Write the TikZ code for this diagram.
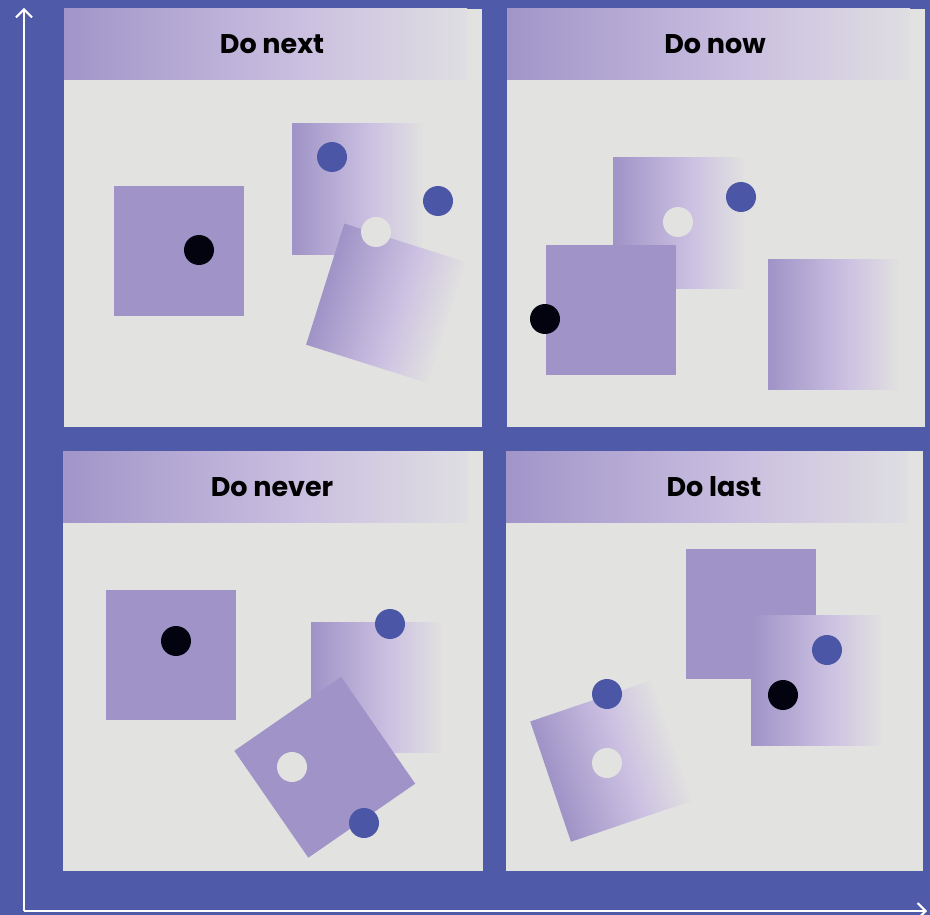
\documentclass[tikz,border=0pt]{standalone}
\usepackage{fontspec}
\newfontfamily\poppins{Poppins}
\usetikzlibrary{arrows.meta}
\definecolor{bgblue}{HTML}{4F5AA8}
\definecolor{panelgray}{HTML}{E2E2E0}
\definecolor{lav}{HTML}{9F93C7}
\definecolor{lavmid}{HTML}{CDC2E2}
\definecolor{lavend}{HTML}{E1E0E0}
\definecolor{hdrA}{HTML}{A195C9}
\definecolor{hdrB}{HTML}{CBC0E0}
\definecolor{hdrC}{HTML}{DFDEE2}
\definecolor{dotblue}{HTML}{4C56A6}
\definecolor{dotblack}{HTML}{03020F}
\pgfdeclarehorizontalshading{sqshade}{100bp}{color(0bp)=(lav); color(25bp)=(lav); color(56bp)=(lavmid); color(75bp)=(lavend); color(100bp)=(lavend)}
\pgfdeclarehorizontalshading{hdrshade}{100bp}{color(0bp)=(hdrA); color(25bp)=(hdrA); color(55bp)=(hdrB); color(75bp)=(hdrC); color(100bp)=(hdrC)}
\tikzset{
  panel/.style={fill=panelgray},
  header/.style={shading=hdrshade},
  solidsq/.style={fill=lav},
  gradsq/.style={shading=sqshade},
  bluedot/.style={fill=dotblue},
  blackdot/.style={fill=dotblack},
  whitedot/.style={fill=panelgray},
  headtitle/.style={font=\poppins\bfseries\fontsize{27}{31}\selectfont, text=black, anchor=base, inner sep=0pt},
  axisarrow/.style={draw=white, line width=2pt, -{Straight Barb[length=8pt,width=16pt]}}
}
\begin{document}
\begin{tikzpicture}[x=1pt,y=-1pt]
\useasboundingbox (0,0) rectangle (930,915);
\fill[bgblue] (0,0) rectangle (930,915);

% axes
\coordinate (origin) at (24,911);
\coordinate (ytip) at (24,8);
\coordinate (xtip) at (927,911);
\draw[axisarrow] (origin) -- (ytip);
\draw[axisarrow] (origin) -- (xtip);

% panels
\fill[panel] (64,9) rectangle (482,427);
\fill[panel] (507,9) rectangle (925,427);
\fill[panel] (63,451) rectangle (483,871);
\fill[panel] (506,451) rectangle (923,871);

% headers
\shade[header] (64,9) rectangle (467,80);
\shade[header] (507,9) rectangle (910,80);
\shade[header] (63,451) rectangle (468,522);
\shade[header] (506,451) rectangle (908,522);
\node[headtitle] (tnext) at (272,54) {Do next};
\node[headtitle] (tnow) at (715,54) {Do now};
\node[headtitle] (tnever) at (272,496) {Do never};
\node[headtitle] (tlast) at (714,496) {Do last};

% --- Do next
\fill[solidsq] (114,186) rectangle (244,316);
\fill[blackdot] (199,250) circle[radius=15pt];
\shade[gradsq] (292,124) rectangle (422,254);
\fill[bluedot] (332,157) circle[radius=15pt];
\fill[bluedot] (438,201) circle[radius=15pt];
\begin{scope}[transform canvas={shift={(385.75,303.25)}, rotate=-17.5}]
  \shade[gradsq] (-63.5,-63.5) rectangle (63.5,63.5);
\end{scope}
\fill[whitedot] (376,232) circle[radius=15pt];

% --- Do now
\shade[gradsq] (613,158) rectangle (743,288);
\fill[whitedot] (678,222) circle[radius=15pt];
\fill[bluedot] (741,197) circle[radius=15pt];
\fill[solidsq] (546,245) rectangle (676,375);
\fill[blackdot] (545,319) circle[radius=15pt];
\shade[gradsq] (768,259) rectangle (898,389);

% --- Do never
\fill[solidsq] (106,590) rectangle (236,720);
\fill[blackdot] (176,641) circle[radius=15pt];
\shade[gradsq] (311,622) rectangle (441,752);
\fill[bluedot] (390,624) circle[radius=15pt];
\begin{scope}[transform canvas={shift={(324.75,767.25)}, rotate=34.7}]
  \fill[solidsq] (-65,-65) rectangle (65,65);
\end{scope}
\fill[whitedot] (292,767) circle[radius=15pt];
\fill[bluedot] (364,823) circle[radius=15pt];

% --- Do last
\fill[solidsq] (686,549) rectangle (816,679);
\shade[gradsq] (751,615) rectangle (881,745);
\fill[bluedot] (827,650) circle[radius=15pt];
\fill[blackdot] (783,695) circle[radius=15pt];
\begin{scope}[transform canvas={shift={(610.75,761.25)}, rotate=18.7}]
  \shade[gradsq] (-63.5,-63.5) rectangle (63.5,63.5);
\end{scope}
\fill[bluedot] (607,694) circle[radius=15pt];
\fill[whitedot] (607,763) circle[radius=15pt];
\end{tikzpicture}
\end{document}
